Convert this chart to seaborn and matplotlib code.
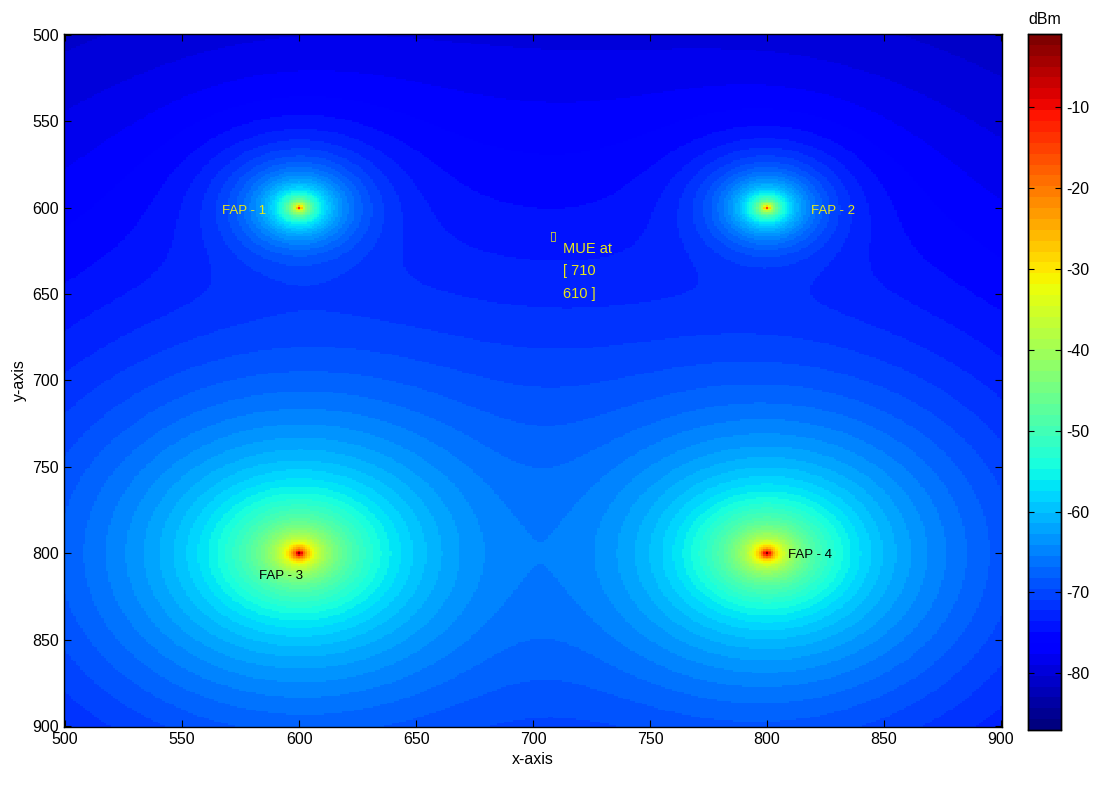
import numpy as np
import matplotlib
matplotlib.use('Agg')
import matplotlib.pyplot as plt
import seaborn as sns

# ------------------ FAP setup ------------------
fap_names = ["FAP - 1", "FAP - 2", "FAP - 3", "FAP - 4"]
fap_x = [600, 800, 600, 800]
fap_y = [600, 600, 800, 800]
fap_power_1m = [-27.5, -29.0, -10.0, -11.0]   # dBm at unit distance
path_loss_exp = 2.9
min_dist = 0.35

label_x = [567, 819, 583, 809]
label_y = [602, 602, 813, 801]
label_colors = ["#e8e81a", "#e8e81a", "black", "black"]

mue_pos = [710, 610]

grid_vals = np.arange(500, 901)
tick_vals = list(range(500, 901, 50))
cbar_ticks = [-80, -70, -60, -50, -40, -30, -20, -10]

# received power map: sum of all FAPs in mW
gx, gy = np.meshgrid(grid_vals, grid_vals)
total_mw = np.zeros(gx.shape)
for fx, fy, p0 in zip(fap_x, fap_y, fap_power_1m):
    d = np.maximum(np.hypot(gx - fx, gy - fy), min_dist)
    total_mw += 10 ** ((p0 - 10 * path_loss_exp * np.log10(d)) / 10)
power_dbm = 10 * np.log10(total_mw)

# ------------------ plot ------------------
plt.rcParams['font.family'] = ['Liberation Sans', 'DejaVu Sans']
fig = plt.figure(figsize=(10.94, 7.85), dpi=100)
ax = fig.add_axes([0.0585, 0.074, 0.8575, 0.8827])
cax = fig.add_axes([0.9397, 0.070, 0.0302, 0.8867])

sns.heatmap(power_dbm, ax=ax, cbar_ax=cax, cmap=plt.get_cmap('jet', 64),
            vmin=-87, vmax=-1, xticklabels=False, yticklabels=False)

def to_cell(v):
    return v - 500 + 0.5

ax.set_xticks([to_cell(v) for v in tick_vals])
ax.set_xticklabels([str(v) for v in tick_vals], rotation=0)
ax.set_yticks([to_cell(v) for v in tick_vals])
ax.set_yticklabels([str(v) for v in tick_vals], rotation=0)
ax.tick_params(direction='in', length=5, width=0.8, top=True, right=True,
               labelsize=11.5, colors='black')
for s in ax.spines.values():
    s.set_visible(True)
    s.set_color('black')
    s.set_linewidth(1.0)
ax.set_xlabel("x-axis", fontsize=11.5, labelpad=4)
ax.set_ylabel("y-axis", fontsize=11.5, labelpad=4)

for name, lx, ly, c in zip(fap_names, label_x, label_y, label_colors):
    ax.text(to_cell(lx), to_cell(ly), name, color=c, fontsize=9.5,
            ha='left', va='center')

ax.text(to_cell(mue_pos[0] - 1.5), to_cell(mue_pos[1] + 6), "\u25af", color="#e8e81a",
        fontsize=9, ha='center', va='center', family='DejaVu Sans')
ax.text(to_cell(mue_pos[0] + 3), to_cell(mue_pos[1] + 10), "MUE at\n[ 710\n610 ]",
        color="#e8e81a", fontsize=10.5, ha='left', va='top', linespacing=1.75)

cax.set_yticks(cbar_ticks)
cax.set_yticklabels([str(v) for v in cbar_ticks])
cax.tick_params(direction='in', length=4, width=0.8, left=True, right=True,
                labelsize=11.5)
for s in cax.spines.values():
    s.set_visible(True)
    s.set_color('black')
    s.set_linewidth(1.0)
cax.set_title("dBm", fontsize=11.5, pad=7)

plt.savefig("out.png", dpi=100)
